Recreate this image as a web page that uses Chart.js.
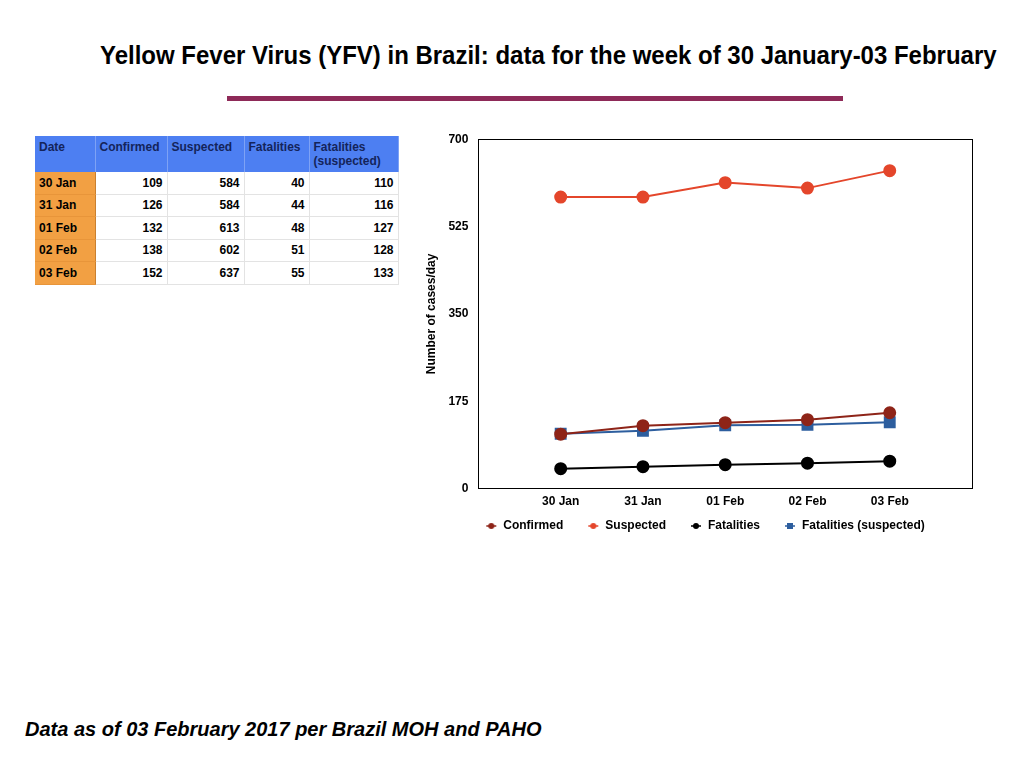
<!DOCTYPE html>
<html>
<head>
<meta charset="utf-8">
<title>Yellow Fever Virus in Brazil</title>
<script src="https://cdn.jsdelivr.net/npm/chart.js@4"></script>
<style>
    html, body { margin: 0; padding: 0; background: #fff; }
    body { width: 1024px; height: 768px; position: relative; overflow: hidden; font-family: 'Liberation Sans', Arial, sans-serif; }
    #title { position: absolute; left: 100px; top: 41px; font-size: 25px; font-weight: bold; white-space: nowrap; transform-origin: 0 0; color: #000; }
    #rule { position: absolute; left: 227px; top: 96px; width: 616px; height: 5px; background: #8e2a58; }
    #footer { position: absolute; left: 25px; top: 718px; font-size: 20px; font-weight: bold; font-style: italic; white-space: nowrap; transform-origin: 0 0; }
    table { position: absolute; left: 35px; top: 136px; border-collapse: collapse; table-layout: fixed; width: 363px; font-size: 12px; font-weight: bold; }
    th { background: #4d7ff2; color: #14245a; text-align: left; vertical-align: top; padding: 4px 4px 0 4px; height: 32px; border-right: 1px solid #7ea2f5; font-weight: bold; }
    td { height: 21.5px; padding: 0 4px; text-align: right; border-bottom: 1px solid #e3e3e3; border-right: 1px solid #e3e3e3; }
    td.d { background: #f2a043; text-align: left; border-bottom: 1px solid #e8953a; border-right: 1px solid #c98030; }
    #chart-box { position: absolute; left: 420px; top: 122px; width: 570px; height: 439px; }
</style>
</head>
<body>
<div id="title">Yellow Fever Virus (YFV) in Brazil: data for the week of 30 January-03 February</div>
<div id="rule"></div>
<table id="data-table"></table>
<div id="chart-box"><canvas id="yfv-chart"></canvas></div>
<div id="footer">Data as of 03 February 2017 per Brazil MOH and PAHO</div>

<script>
// values
const dates = ['30 Jan', '31 Jan', '01 Feb', '02 Feb', '03 Feb'];
const confirmed = [109, 126, 132, 138, 152];
const suspected = [584, 584, 613, 602, 637];
const fatalities = [40, 44, 48, 51, 55];
const fatalitiesSuspected = [110, 116, 127, 128, 133];
const yTicks = [0, 175, 350, 525, 700];
const headers = ['Date', 'Confirmed', 'Suspected', 'Fatalities', 'Fatalities<br>(suspected)'];
const colWidths = [60, 72, 77, 65, 89];

// fit a line of text to a given width
function fitWidth(id, width) {
    const el = document.getElementById(id);
    el.style.transform = 'scaleX(' + (width / el.scrollWidth) + ')';
}
fitWidth('title', 897);
fitWidth('footer', 516);

// table
function buildTable() {
    const table = document.getElementById('data-table');
    let html = '<colgroup>';
    colWidths.forEach(w => { html += '<col style="width:' + w + 'px">'; });
    html += '</colgroup><tr>';
    headers.forEach(h => { html += '<th>' + h + '</th>'; });
    html += '</tr>';
    dates.forEach((d, i) => {
        html += '<tr><td class="d">' + d + '</td>' +
            '<td>' + confirmed[i] + '</td>' +
            '<td>' + suspected[i] + '</td>' +
            '<td>' + fatalities[i] + '</td>' +
            '<td>' + fatalitiesSuspected[i] + '</td></tr>';
    });
    table.innerHTML = html;
}
buildTable();

// little line + marker images for the legend
function legendMarker(color, shape) {
    const c = document.createElement('canvas');
    c.width = 12;
    c.height = 8;
    const g = c.getContext('2d');
    g.strokeStyle = color;
    g.fillStyle = color;
    g.lineWidth = 1.5;
    g.beginPath();
    g.moveTo(1, 4);
    g.lineTo(11, 4);
    g.stroke();
    if (shape === 'rect') {
        g.fillRect(3, 1, 6, 6);
    } else {
        g.beginPath();
        g.arc(6, 4, 3, 0, Math.PI * 2);
        g.fill();
    }
    return c;
}

function toPoints(values) {
    return values.map((v, i) => ({ x: i + 1, y: v }));
}

const boxPlugin = {
    id: 'plotBox',
    afterLayout(chart) {
        // the slide's legend sits a bit higher and centred under the frame
        const lg = chart.legend;
        lg.left += 9;
        lg.right += 9;
        lg.top -= 19;
        lg.bottom -= 19;
    },
    afterDraw(chart) {
        const a = chart.chartArea;
        const ctx = chart.ctx;
        ctx.save();
        ctx.strokeStyle = '#000';
        ctx.lineWidth = 1;
        ctx.strokeRect(Math.round(a.left) + 0.5, Math.round(a.top) + 0.5,
            Math.round(a.right - a.left), Math.round(a.bottom - a.top));
        ctx.restore();
    }
};

const series = [
    { label: 'Confirmed', data: confirmed, color: '#8e2418', shape: 'circle', radius: 5.5 },
    { label: 'Suspected', data: suspected, color: '#e4462b', shape: 'circle', radius: 5.5 },
    { label: 'Fatalities', data: fatalities, color: '#000000', shape: 'circle', radius: 5.5 },
    { label: 'Fatalities (suspected)', data: fatalitiesSuspected, color: '#2d5e9e', shape: 'rect', radius: 7 }
];

Chart.defaults.font.family = "'Liberation Sans', Arial, sans-serif";
Chart.defaults.font.weight = 'bold';
Chart.defaults.font.size = 12;
Chart.defaults.color = '#000';

const yfvChart = new Chart(document.getElementById('yfv-chart').getContext('2d'), {
    type: 'line',
    data: {
        datasets: series.map(s => ({
            label: s.label,
            data: toPoints(s.data),
            borderColor: s.color,
            backgroundColor: s.color,
            borderWidth: 2,
            pointStyle: s.shape,
            pointRadius: s.radius,
            pointHoverRadius: s.radius,
            tension: 0
        }))
    },
    options: {
        responsive: true,
        maintainAspectRatio: false,
        animation: false,
        layout: { padding: { top: 0, right: 18, left: 0, bottom: 0 } },
        plugins: {
            tooltip: { enabled: false },
            legend: {
                display: true,
                position: 'bottom',
                labels: {
                    usePointStyle: true,
                    pointStyleWidth: 12,
                    boxHeight: 8,
                    padding: 24,
                    font: { size: 12, weight: 'bold' },
                    generateLabels: function(chart) {
                        return series.map((s, i) => ({
                            text: s.label,
                            pointStyle: legendMarker(s.color, s.shape),
                            fillStyle: s.color,
                            strokeStyle: s.color,
                            lineWidth: 0,
                            datasetIndex: i,
                            hidden: false
                        }));
                    }
                }
            }
        },
        scales: {
            x: {
                type: 'linear',
                min: 0,
                max: 6,
                grid: { display: false, drawTicks: false },
                border: { display: false },
                afterBuildTicks: function(axis) {
                    axis.ticks = dates.map((d, i) => ({ value: i + 1 }));
                },
                ticks: {
                    padding: 6,
                    maxRotation: 0,
                    autoSkip: false,
                    callback: function(value) {
                        return dates[value - 1] || '';
                    }
                }
            },
            y: {
                min: 0,
                max: 700,
                grid: { display: false, drawTicks: false },
                border: { display: false },
                afterBuildTicks: function(axis) {
                    axis.ticks = yTicks.map(v => ({ value: v }));
                },
                ticks: { padding: 10 },
                title: {
                    display: true,
                    text: 'Number of cases/day',
                    font: { size: 12, weight: 'bold' },
                    padding: { top: 4, bottom: 0 }
                }
            }
        }
    },
    plugins: [boxPlugin]
});
</script>
</body>
</html>
